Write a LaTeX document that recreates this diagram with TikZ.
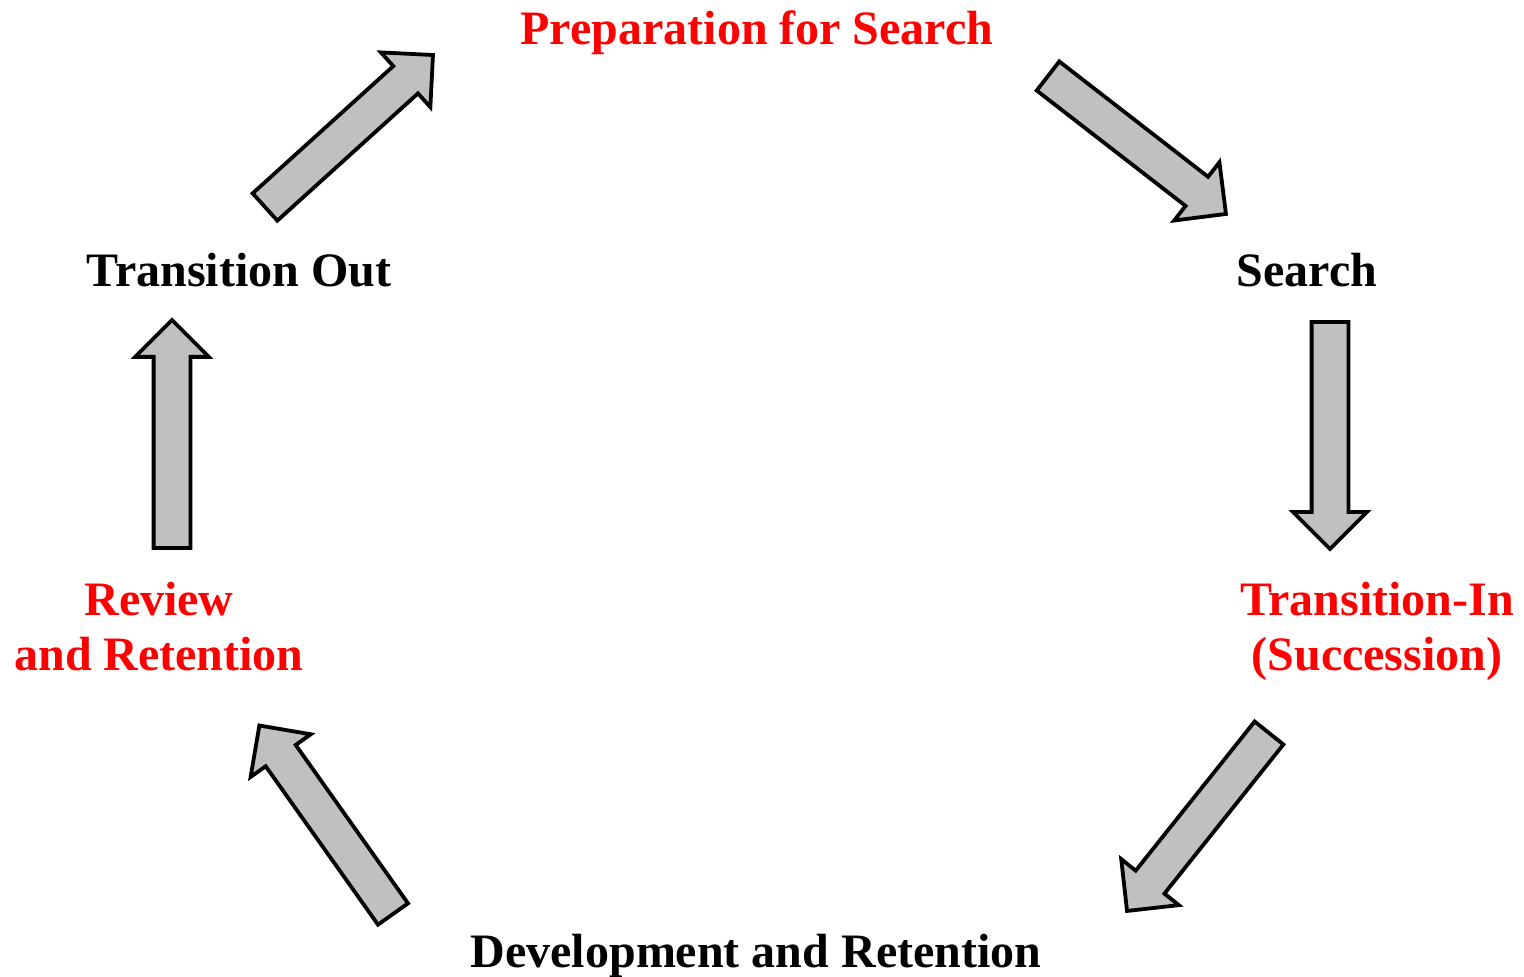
\documentclass[tikz,border=0pt]{standalone}
\usepackage{fontspec}
\setmainfont{Liberation Serif}
\usetikzlibrary{calc,shapes.arrows}

\definecolor{arrowgray}{RGB}{192,192,192}

\newcommand{\cyclearrow}[2]{%
  \path let \p1=($(#2)-(#1)$), \n1={veclen(\x1,\y1)} in
    (#1) -- (#2) node[pos=0,sloped,allow upside down,anchor=tail,cycle arrow,minimum height=\n1] {};}

\begin{document}
\begin{tikzpicture}[x=0.5pt,y=-0.5pt,
  phase/.style={font=\fontsize{24}{27.5}\selectfont\bfseries,align=center,inner sep=0pt},
  key/.style={phase,text=red},
  cycle arrow/.style={single arrow,draw=black,fill=arrowgray,line width=1.9pt,
    inner xsep=0pt,inner ysep=8.25pt,outer sep=0pt,single arrow head extend=9.25pt}]
\useasboundingbox (0,0) rectangle (1524,977);
\node[key,anchor=base] (prep) at (757,45) {Preparation for Search};
\node[phase,anchor=base] (search) at (1307,287) {Search};
\node[key,anchor=base] (transin) at (1377,670) {Transition-In\\(Succession)};
\node[phase,anchor=base] (devel) at (756,967) {Development and Retention};
\node[key,anchor=base] (review) at (159,670) {Review\\and Retention};
\node[phase,anchor=base] (transout) at (239,287) {Transition Out};
\coordinate (t1) at (265,207);  \coordinate (h1) at (433,55);
\coordinate (t2) at (1048,76);  \coordinate (h2) at (1226,214);
\coordinate (t3) at (1330,322); \coordinate (h3) at (1330,549);
\coordinate (t4) at (1269,733); \coordinate (h4) at (1127,911);
\coordinate (t5) at (393,914);  \coordinate (h5) at (259,725);
\coordinate (t6) at (172,548);  \coordinate (h6) at (172,320);
\cyclearrow{t1}{h1}
\cyclearrow{t2}{h2}
\cyclearrow{t3}{h3}
\cyclearrow{t4}{h4}
\cyclearrow{t5}{h5}
\cyclearrow{t6}{h6}
\end{tikzpicture}
\end{document}
